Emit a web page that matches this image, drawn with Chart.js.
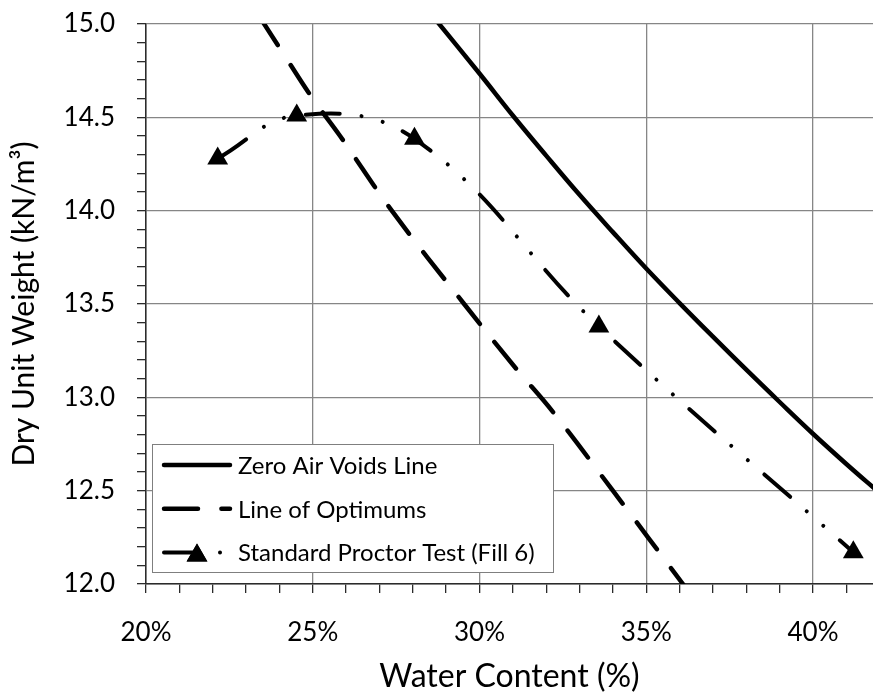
<!DOCTYPE html>
<html>
<head>
<meta charset="utf-8">
<script src="https://cdn.jsdelivr.net/npm/chart.js@4"></script>
<style>
  body { margin: 0; background: #fff; overflow: hidden; }
  #wrap { width: 873px; height: 696px; }
</style>
</head>
<body>
<div id="wrap"><canvas id="compaction" width="873" height="696"></canvas></div>
<script>
// water content in %, dry unit weight in kN/m3
let zavWater = [28.7, 30, 31, 32, 33, 34, 35, 36, 37, 38, 39, 40, 41, 42];
let zavWeight = [15.02, 14.735, 14.51, 14.295, 14.085, 13.885, 13.69, 13.505, 13.325, 13.148, 12.975, 12.805, 12.643, 12.487];

let optWater = [23.4, 24.23, 25.0, 25.82, 27.37, 29.54, 31.07, 32.21, 34.0, 36.1, 36.6];
let optWeight = [15.04, 14.81, 14.60, 14.40, 14.00, 13.50, 13.16, 12.92, 12.50, 12.00, 11.88];

let proctorWater = [22.15, 24.52, 28.05, 33.58, 41.21];
let proctorWeight = [14.28, 14.51, 14.385, 13.38, 12.17];

let seriesNames = ['Zero Air Voids Line', 'Line of Optimums', 'Standard Proctor Test (Fill 6)'];

let xMajor = [20, 25, 30, 35, 40];
let yMajor = [12.0, 12.5, 13.0, 13.5, 14.0, 14.5, 15.0];

function toPoints(xs, ys) {
    return xs.map((x, i) => ({ x: x, y: ys[i] }));
}

function isMajor(list, v) {
    return list.some(m => Math.abs(m - v) < 1e-6);
}

// keep the plot area fixed: no extra room for overhanging tick labels
function noOverhang(s) {
    s.paddingTop = 0;
    s.paddingBottom = 0;
    s.paddingLeft = 0;
    s.paddingRight = 0;
}

const gridGray = '#868686';
const axisDark = '#2b2b2b';

// legend box drawn inside the plot, bottom left
const legendBox = {
    id: 'legendBox',
    afterDraw(chart) {
        const ctx = chart.ctx;
        const area = chart.chartArea;
        const left = area.left + 6;
        const top = area.bottom - 140;
        const w = 401, h = 128;

        ctx.save();
        ctx.fillStyle = '#fff';
        ctx.fillRect(left, top, w, h);
        ctx.strokeStyle = '#7f7f7f';
        ctx.lineWidth = 1;
        ctx.strokeRect(Math.round(left) + 0.5, Math.round(top) + 0.5, w, h);

        chart.data.datasets.forEach((ds, i) => {
            const ry = top + 21 + i * 43.8;
            ctx.save();
            ctx.strokeStyle = '#000';
            ctx.lineWidth = ds.borderWidth;
            ctx.lineCap = 'round';
            ctx.setLineDash(ds.borderDash || []);
            ctx.beginPath();
            ctx.moveTo(left + 12, ry);
            ctx.lineTo(left + 78, ry);
            ctx.stroke();
            ctx.restore();
            if (ds.pointRadius > 0) {
                Chart.helpers.drawPoint(ctx, {
                    pointStyle: ds.pointStyle,
                    radius: ds.pointRadius,
                    borderWidth: 0
                }, left + 45, ry + ds.pointRadius / 4);
                ctx.fillStyle = '#000';
                ctx.fill();
            }
            ctx.fillStyle = '#000';
            ctx.font = '24px Lato';
            ctx.textBaseline = 'middle';
            ctx.fillText(ds.label, left + 86, ry + 1);
        });
        ctx.restore();
    }
};

new Chart(document.getElementById('compaction'), {
    type: 'scatter',
    data: {
        datasets: [{
            label: seriesNames[0],
            data: toPoints(zavWater, zavWeight),
            showLine: true,
            borderColor: '#000',
            borderWidth: 4.5,
            borderCapStyle: 'round',
            pointRadius: 0,
            tension: 0.4,
            clip: 0
        }, {
            label: seriesNames[1],
            data: toPoints(optWater, optWeight),
            showLine: true,
            borderColor: '#000',
            borderWidth: 4.5,
            borderDash: [34, 23.4],
            borderCapStyle: 'round',
            pointRadius: 0,
            tension: 0.4,
            clip: 0
        }, {
            label: seriesNames[2],
            data: toPoints(proctorWater, proctorWeight),
            showLine: true,
            borderColor: '#000',
            borderWidth: 4,
            borderDash: [34, 22, 0.01, 22, 0.01, 22],
            borderCapStyle: 'round',
            tension: 0.4,
            pointStyle: 'triangle',
            pointRadius: 12,
            pointBorderWidth: 0,
            pointBackgroundColor: '#000',
            pointBorderColor: '#000'
        }]
    },
    options: {
        responsive: false,
        animation: false,
        events: [],
        layout: {
            autoPadding: false,
            padding: { top: 24, right: 0, bottom: 0, left: 0 }
        },
        plugins: {
            legend: { display: false },
            tooltip: { enabled: false }
        },
        scales: {
            x: {
                type: 'linear',
                position: 'bottom',
                min: 20,
                max: 41.8,
                afterFit: s => { s.height = 112; noOverhang(s); },
                border: { color: axisDark, width: 1.5 },
                grid: {
                    color: c => isMajor(xMajor, c.tick.value) ? gridGray : 'rgba(0,0,0,0)',
                    tickColor: axisDark,
                    lineWidth: 1.3,
                    tickWidth: 1.3,
                    tickLength: 9
                },
                ticks: {
                    stepSize: 1,
                    includeBounds: false,
                    autoSkip: false,
                    maxRotation: 0,
                    padding: 24,
                    color: '#000',
                    font: { family: 'Lato', size: 26 },
                    callback: v => isMajor(xMajor, v) ? v + '%' : ''
                },
                title: {
                    display: true,
                    text: 'Water Content (%)',
                    color: '#000',
                    font: { family: 'Lato', size: 32 },
                    padding: { top: 0, bottom: 0 }
                }
            },
            y: {
                type: 'linear',
                min: 12,
                max: 15,
                afterFit: s => { s.width = 146; noOverhang(s); },
                border: { color: axisDark, width: 1.5 },
                grid: {
                    color: c => isMajor(yMajor, c.tick.value) ? gridGray : 'rgba(0,0,0,0)',
                    tickColor: axisDark,
                    lineWidth: 1.3,
                    tickWidth: 1.3,
                    tickLength: 9
                },
                ticks: {
                    stepSize: 0.1,
                    includeBounds: false,
                    autoSkip: false,
                    padding: 22,
                    color: '#000',
                    font: { family: 'Lato', size: 26 },
                    callback: v => isMajor(yMajor, v) ? v.toFixed(1) : ''
                },
                title: {
                    display: true,
                    text: 'Dry Unit Weight (kN/m³)',
                    color: '#000',
                    font: { family: 'Lato', size: 30 },
                    padding: { top: 6, bottom: 0 }
                }
            }
        }
    },
    plugins: [legendBox]
});
</script>
</body>
</html>
